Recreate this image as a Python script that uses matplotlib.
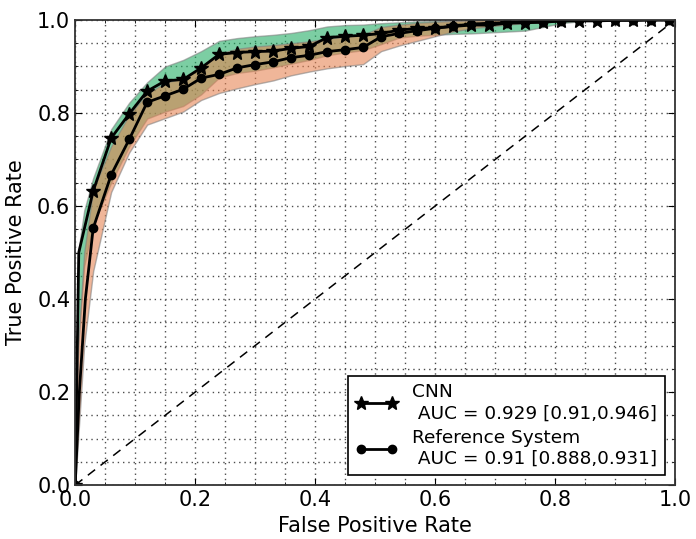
import matplotlib
matplotlib.use("Agg")
import matplotlib.pyplot as plt
from matplotlib.ticker import MultipleLocator

# mean ROC curves, sampled on a regular false-positive grid
FPR_GRID = [0.00, 0.03, 0.06, 0.09, 0.12, 0.15, 0.18, 0.21, 0.24, 0.27,
            0.30, 0.33, 0.36, 0.39, 0.42, 0.45, 0.48, 0.51, 0.54, 0.57,
            0.60, 0.63, 0.66, 0.69, 0.72, 0.75, 0.78, 0.81, 0.84, 0.87,
            0.90, 0.93, 0.96, 0.99]
CNN_TPR = [0.0, 0.632, 0.746, 0.798, 0.847, 0.869, 0.872, 0.897, 0.926, 0.930,
           0.932, 0.933, 0.939, 0.943, 0.962, 0.965, 0.967, 0.971, 0.978, 0.982,
           0.983, 0.986, 0.989, 0.989, 0.993, 0.994, 0.995, 0.998, 0.998, 0.998,
           0.999, 0.999, 1.0, 1.0]
REF_TPR = [0.0, 0.552, 0.667, 0.743, 0.823, 0.837, 0.851, 0.875, 0.883, 0.897,
           0.904, 0.910, 0.919, 0.924, 0.932, 0.936, 0.941, 0.964, 0.971, 0.977,
           0.982, 0.987, 0.991, 0.993, 0.994, 0.996, 0.996, 0.998, 0.999, 0.999,
           1.0, 1.0, 1.0, 1.0]

# steep start of each curve (between 0 and the first grid step)
CNN_START_FPR = [0.006]
CNN_START_TPR = [0.50]
REF_START_FPR = [0.007, 0.017]
REF_START_TPR = [0.20, 0.40]

# confidence bands
BAND_FPR = [0.0, 0.005, 0.015] + FPR_GRID[1:] + [1.0]
CNN_UPPER = [0.0, 0.50, 0.59,
             0.660, 0.765, 0.822, 0.866, 0.900, 0.914, 0.933, 0.955, 0.961, 0.965,
             0.968, 0.972, 0.978, 0.986, 0.989, 0.990, 0.993, 0.995, 0.997, 0.998,
             0.998, 0.999, 0.999, 0.999, 1.0, 1.0, 1.0, 1.0, 1.0, 1.0, 1.0, 1.0, 1.0,
             1.0]
CNN_LOWER = [0.0, 0.30, 0.47,
             0.560, 0.650, 0.728, 0.788, 0.803, 0.815, 0.840, 0.876, 0.886, 0.891,
             0.898, 0.906, 0.914, 0.924, 0.930, 0.935, 0.948, 0.962, 0.966, 0.968,
             0.970, 0.971, 0.973, 0.975, 0.977, 0.985, 0.993, 0.997, 0.998, 0.999,
             1.0, 1.0, 1.0,
             1.0]
REF_UPPER = [0.0, 0.30, 0.50,
             0.635, 0.728, 0.796, 0.842, 0.865, 0.875, 0.898, 0.928, 0.938, 0.943,
             0.946, 0.950, 0.954, 0.960, 0.964, 0.968, 0.985, 0.990, 0.994, 0.996,
             0.998, 0.999, 1.0, 1.0, 1.0, 1.0, 1.0, 1.0, 1.0, 1.0, 1.0, 1.0, 1.0,
             1.0]
REF_LOWER = [0.0, 0.10, 0.30,
             0.460, 0.630, 0.715, 0.775, 0.789, 0.803, 0.828, 0.843, 0.853, 0.862,
             0.870, 0.881, 0.889, 0.896, 0.901, 0.905, 0.933, 0.945, 0.955, 0.965,
             0.975, 0.982, 0.986, 0.990, 0.993, 0.995, 0.997, 0.998, 0.999, 1.0,
             1.0, 1.0, 1.0,
             1.0]

CNN_LABEL = "CNN\n AUC = 0.929 [0.91,0.946]"
REF_LABEL = "Reference System\n AUC = 0.91 [0.888,0.931]"


def curve(start_fpr, start_tpr, tpr):
    """Join the steep start, the grid samples and the (1, 1) end point."""
    xs = [FPR_GRID[0]] + start_fpr + FPR_GRID[1:] + [1.0]
    ys = [tpr[0]] + start_tpr + tpr[1:] + [1.0]
    marks = [0] + list(range(len(start_fpr) + 1, len(start_fpr) + len(FPR_GRID)))
    return xs, ys, marks


plt.rcParams["font.family"] = "DejaVu Sans"
fig = plt.figure(figsize=(6.96, 5.39), dpi=100)
ax = fig.add_axes([0.108, 0.100, 0.862, 0.863])

ax.fill_between(BAND_FPR, CNN_LOWER, CNN_UPPER, facecolor="#1eac61", alpha=0.58,
                edgecolor="0.5", linewidth=1)
ax.fill_between(BAND_FPR, REF_LOWER, REF_UPPER, facecolor="#e68250", alpha=0.58,
                edgecolor="0.5", linewidth=1)

ax.plot([0, 1], [0, 1], color="k", linestyle="--", dashes=(6, 4.5), linewidth=1.1)

x, y, marks = curve(CNN_START_FPR, CNN_START_TPR, CNN_TPR)
ax.plot(x, y, color="k", linewidth=2, marker="*", markersize=10.5,
        markevery=marks, label=CNN_LABEL)
x, y, marks = curve(REF_START_FPR, REF_START_TPR, REF_TPR)
ax.plot(x, y, color="k", linewidth=2, marker="o", markersize=6,
        markevery=marks, label=REF_LABEL)

ax.set_xlim(0, 1)
ax.set_ylim(0, 1)
ax.xaxis.set_major_locator(MultipleLocator(0.2))
ax.yaxis.set_major_locator(MultipleLocator(0.2))
ax.xaxis.set_minor_locator(MultipleLocator(0.05))
ax.yaxis.set_minor_locator(MultipleLocator(0.05))
ax.grid(True, which="both", linestyle=(0, (1, 2.8)), color="0.3", linewidth=1)
ax.set_axisbelow(True)
ax.tick_params(which="both", direction="in", top=True, right=True, labelsize=15)
ax.tick_params(which="major", length=5)
ax.tick_params(which="minor", length=2.5)
for spine in ax.spines.values():
    spine.set_linewidth(1.3)
    spine.set_color("0.2")

ax.set_xlabel("False Positive Rate", fontsize=15, labelpad=4)
ax.set_ylabel("True Positive Rate", fontsize=15, labelpad=8)

leg = ax.legend(loc="lower right", fontsize=13.3, numpoints=2, fancybox=False,
                framealpha=1, edgecolor="k", handlelength=2.3, borderpad=0.4,
                labelspacing=0.35, handletextpad=0.8, borderaxespad=0.55)
leg.get_frame().set_linewidth(1.2)

fig.savefig("out.png", dpi=100)
